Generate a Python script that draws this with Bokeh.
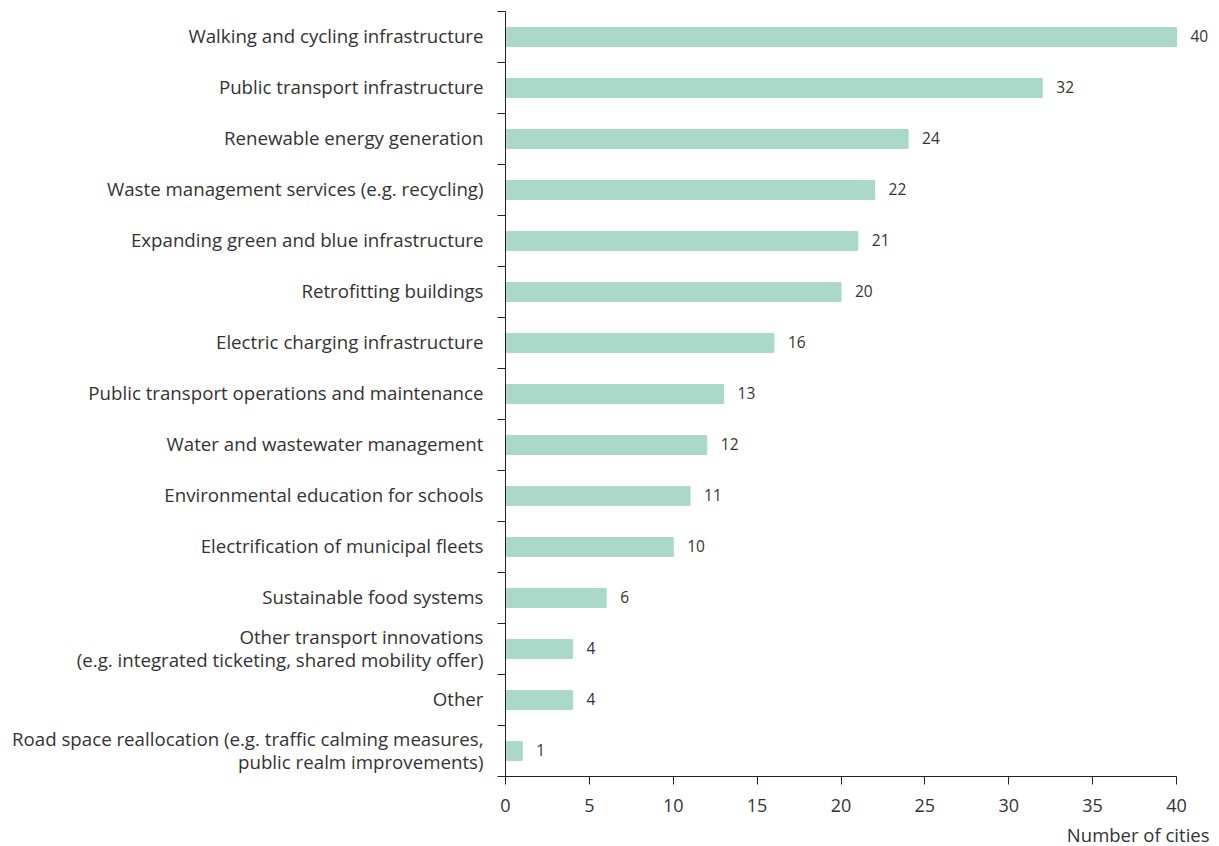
from bokeh.plotting import figure
from bokeh.models import FixedTicker, ColumnDataSource, Title
from bokeh.core.properties import value
from bokeh.embed import file_html
from bokeh.resources import INLINE

categories = [
    "Walking and cycling infrastructure",
    "Public transport infrastructure",
    "Renewable energy generation",
    "Waste management services (e.g. recycling)",
    "Expanding green and blue infrastructure",
    "Retrofitting buildings",
    "Electric charging infrastructure",
    "Public transport operations and maintenance",
    "Water and wastewater management",
    "Environmental education for schools",
    "Electrification of municipal fleets",
    "Sustainable food systems",
    "Other transport innovations\n(e.g. integrated ticketing, shared mobility offer)",
    "Other",
    "Road space reallocation (e.g. traffic calming measures,\npublic realm improvements)",
]
values = [40, 32, 24, 22, 21, 20, 16, 13, 12, 11, 10, 6, 4, 4, 1]
x_ticks = [0, 5, 10, 15, 20, 25, 30, 35, 40]
x_title = "Number of cities"

FONT = "Open Sans"
TXT = "#333333"
BAR = "#aad8c9"

n = len(categories)
ypos = [n - 1 - i for i in range(n)]
lab_pos = [y + 0.025 for y in ypos]
src = ColumnDataSource(dict(y=ypos, v=values, lab=[str(v) for v in values]))

X_MAX = 40
x_end = X_MAX * 706 / 671  # room to the right of the axis for value labels

p = figure(
    width=1219, height=846,
    x_range=(0, x_end), y_range=(-0.5, n - 0.5),
    output_backend="svg", toolbar_location=None,
    min_border_left=505, min_border_right=8, min_border_top=11, min_border_bottom=70,
)
p.frame_width = 706
p.frame_height = 765
p.outline_line_color = None
p.xgrid.visible = False
p.ygrid.visible = False

p.hbar(y="y", left=0, right="v", height=0.37, color=BAR, source=src)
p.text(x="v", y="y", text="lab", x_offset=14, y_offset=-1, text_baseline="middle",
       text_align="left", text_font=value(FONT), text_font_size="15.5px",
       text_color=TXT, source=src)

# y axis: labels at centres, ticks at boundaries
ya = p.yaxis[0]
ya.ticker = FixedTicker(ticks=lab_pos, minor_ticks=[i - 0.5 for i in range(n + 1)])
ya.major_label_overrides = {y: c for y, c in zip(lab_pos, categories)}
ya.major_tick_line_color = None
ya.major_tick_out = 8
ya.major_tick_in = 0
ya.minor_tick_out = 8
ya.minor_tick_in = 0
ya.minor_tick_line_color = "#222222"
ya.axis_line_color = "#222222"
ya.major_label_text_font = FONT
ya.major_label_text_font_size = "18.7px"
ya.major_label_text_color = TXT
ya.major_label_text_line_height = 0.92
ya.major_label_standoff = 14

xa = p.xaxis[0]
xa.ticker = FixedTicker(ticks=x_ticks)
xa.bounds = (0, X_MAX)
xa.minor_tick_line_color = None
xa.major_tick_in = 0
xa.major_tick_out = 8
xa.major_tick_line_color = "#222222"
xa.axis_line_color = "#222222"
xa.major_label_text_font = FONT
xa.major_label_text_font_size = "18px"
xa.major_label_text_color = TXT
xa.major_label_standoff = 14

p.add_layout(Title(text=x_title, align="right", text_font=FONT, text_font_size="18.5px",
                   text_font_style="normal", text_color=TXT, standoff=10, offset=2), "below")

open("out.html", "w").write(file_html(p, INLINE))
